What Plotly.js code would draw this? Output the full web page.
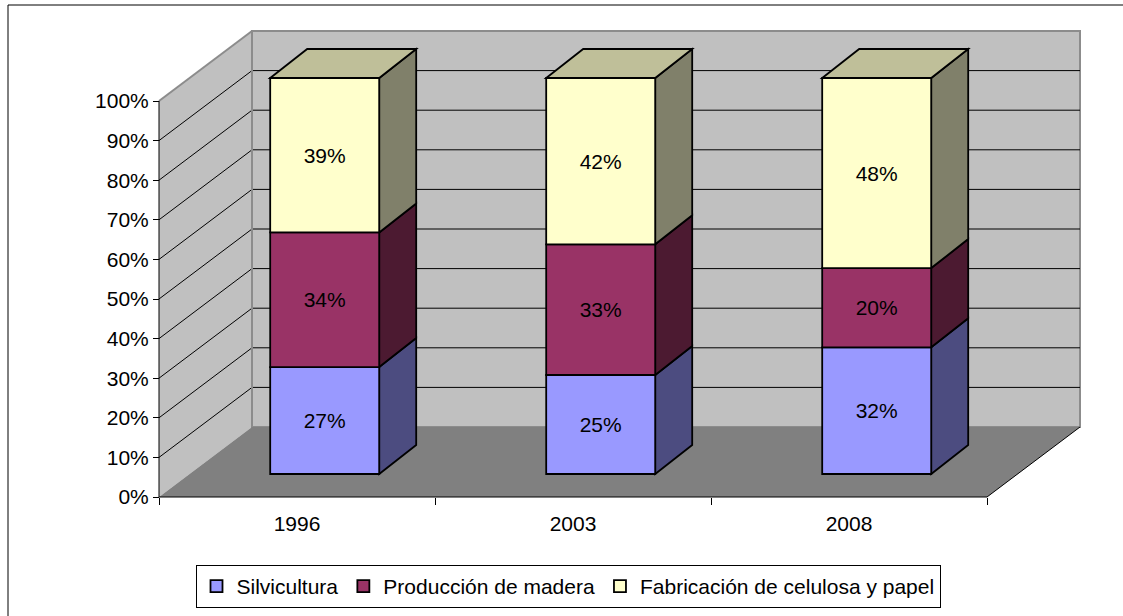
<!DOCTYPE html>
<html>
<head>
<meta charset="utf-8">
<script src="https://cdn.plot.ly/plotly-3.0.1.min.js"></script>
<style>
  html, body { margin: 0; padding: 0; background: #fff; }
  #chart { width: 1123px; height: 616px; }
</style>
</head>
<body>
<div id="chart"></div>
<script>
// ---- data ----
const categories = ['1996', '2003', '2008'];
const silvicultura = [27, 25, 32];
const produccionMadera = [34, 33, 20];
const fabricacionCelulosa = [39, 42, 48];
const seriesNames = ['Silvicultura', 'Producción de madera', 'Fabricación de celulosa y papel'];
const yTickValues = [0, 10, 20, 30, 40, 50, 60, 70, 80, 90, 100];

// ---- styling / geometry ----
const FONT = 'Liberation Sans, Arial, sans-serif';
const frontColors = ['#9999FF', '#993366', '#FFFFCC'];
const sideColors = ['#4C4C80', '#4C1A31', '#80806A'];
const topColors = ['#BDBD9A', '#BDBD9A', '#BFBF99'];
const PXX = 276, PXY = 396;          // pixels per data unit
const DX = 93 / PXX, DY = 70 / PXY;  // full depth of the box
const OX = 27.7 / PXX, OY = 23 / PXY; // bar front-face offset
const BX = 37 / PXX, BY = 29 / PXY;   // bar depth
const BW = 109 / PXX;                 // bar width
const PAD = 4;
const nCat = categories.length;
const xr = [-0.5 - PAD / PXX, nCat - 0.5 + DX + PAD / PXX];
const yr = [-PAD / PXY, 1 + DY + PAD / PXY];
const plotW = (xr[1] - xr[0]) * PXX, plotH = (yr[1] - yr[0]) * PXY;
const L = 159 - PAD, B = 497 + PAD;
const T = B - plotH, R = L + plotW;

const seriesVals = [silvicultura, produccionMadera, fabricacionCelulosa];
const idx = categories.map((c, i) => i);

// ---- bar traces (front faces) ----
const traces = [];
const cum = idx.map(() => 0);
const segs = []; // for side faces
seriesVals.forEach((vals, k) => {
  const bases = idx.map(i => cum[i] / 100 + OY);
  traces.push({
    type: 'bar',
    name: seriesNames[k],
    x: idx.map(i => i + OX),
    y: vals.map(v => v / 100),
    base: bases,
    width: BW,
    marker: { color: frontColors[k], line: { color: '#000', width: 1.8 } },
    text: vals.map(v => v + '%'),
    textposition: 'inside',
    insidetextanchor: 'middle',
    textangle: 0,
    constraintext: 'none',
    textfont: { family: FONT, size: 21, color: '#000' },
    hoverinfo: 'skip'
  });
  idx.forEach(i => {
    segs.push({ i, k, b: cum[i] / 100 + OY, t: (cum[i] + vals[i]) / 100 + OY });
    cum[i] += vals[i];
  });
});

// ---- shapes: walls, floor, grid, bar sides ----
const shapes = [];
const x0 = -0.5, x1 = nCat - 0.5;
function path(pts) {
  return 'M' + pts.map(p => p[0] + ',' + p[1]).join(' L') + ' Z';
}
function line(xa, ya, xb, yb, color, width) {
  shapes.push({ type: 'line', xref: 'x', yref: 'y', x0: xa, y0: ya, x1: xb, y1: yb,
    line: { color, width }, layer: 'below' });
}
// side wall
shapes.push({ type: 'path', xref: 'x', yref: 'y', layer: 'below',
  path: path([[x0, 0], [x0, 1], [x0 + DX, 1 + DY], [x0 + DX, DY]]),
  fillcolor: '#C0C0C0', line: { width: 0 } });
// back wall
shapes.push({ type: 'rect', xref: 'x', yref: 'y', layer: 'below',
  x0: x0 + DX, x1: x1 + DX, y0: DY, y1: 1 + DY,
  fillcolor: '#C0C0C0', line: { color: '#8C8C8C', width: 2 } });
// floor
shapes.push({ type: 'path', xref: 'x', yref: 'y', layer: 'below',
  path: path([[x0, 0], [x1, 0], [x1 + DX, DY], [x0 + DX, DY]]),
  fillcolor: '#808080', line: { width: 0 } });
// gridlines
yTickValues.forEach(tv => {
  const v = tv / 100;
  if (v > 0 && v < 1) {
    line(x0, v, x0 + DX, v + DY, '#000', 1);
    line(x0 + DX, v + DY, x1 + DX, v + DY, '#000', 1);
  }
});
// wall edges
line(x0, 1, x0 + DX, 1 + DY, '#8C8C8C', 2);
line(x0 + DX, DY, x0 + DX, 1 + DY, '#8C8C8C', 2);
// floor edges / axes lines
line(x1, 0, x1 + DX, DY, '#000', 1);
line(x0, 0, x1, 0, '#000', 1);
line(x0, 0, x0, 1, '#000', 1);
// bar side faces & top faces
segs.forEach(s => {
  const xl = s.i + OX - BW / 2, xrr = s.i + OX + BW / 2;
  shapes.push({ type: 'path', xref: 'x', yref: 'y', layer: 'below',
    path: path([[xrr, s.b], [xrr + BX, s.b + BY], [xrr + BX, s.t + BY], [xrr, s.t]]),
    fillcolor: sideColors[s.k], line: { color: '#000', width: 1.8 } });
  if (s.k === seriesVals.length - 1) {
    shapes.push({ type: 'path', xref: 'x', yref: 'y', layer: 'below',
      path: path([[xl, s.t], [xl + BX, s.t + BY], [xrr + BX, s.t + BY], [xrr, s.t]]),
      fillcolor: topColors[s.k], line: { color: '#000', width: 1.8 } });
  }
});
// outer chart border (only left & top visible)
shapes.push({ type: 'rect', xref: 'paper', yref: 'paper', layer: 'above',
  x0: (8 - L) / plotW, x1: (1140 - L) / plotW,
  y0: (B - 650) / plotH, y1: (B - 5) / plotH,
  fillcolor: 'rgba(0,0,0,0)', line: { color: '#000', width: 1 } });

const layout = {
  width: 1123, height: 616,
  margin: { l: L, r: 1123 - R, t: T, b: 616 - B, pad: 0, autoexpand: false },
  paper_bgcolor: '#fff', plot_bgcolor: 'rgba(0,0,0,0)',
  barmode: 'overlay',
  showlegend: true,
  font: { family: FONT, size: 21, color: '#000' },
  xaxis: {
    range: xr, anchor: 'free', position: PAD / plotH,
    tickmode: 'array', tickvals: idx, ticktext: categories,
    ticks: '', showgrid: false, zeroline: false, showline: false,
    ticklabelstandoff: 12,
    tickfont: { family: FONT, size: 21, color: '#000' },
    minor: { tickmode: 'array', tickvals: [-0.5, 0.5, 1.5, 2.5], ticks: 'outside', ticklen: 7, tickcolor: '#000', tickwidth: 1, showgrid: false },
    fixedrange: true
  },
  yaxis: {
    range: yr, anchor: 'free', position: PAD / plotW,
    tickmode: 'array', tickvals: yTickValues.map(v => v / 100),
    ticktext: yTickValues.map(v => v + '%'),
    ticks: 'outside', ticklen: 6, tickcolor: '#000', tickwidth: 1,
    showgrid: false, zeroline: false, showline: false,
    tickfont: { family: FONT, size: 21, color: '#000' },
    fixedrange: true
  },
  legend: {
    orientation: 'h', traceorder: 'normal',
    xref: 'container', yref: 'container',
    x: 568 / 1123, xanchor: 'center',
    y: 1 - 565 / 616, yanchor: 'top',
    bordercolor: '#000', borderwidth: 1, bgcolor: '#fff',
    font: { family: FONT, size: 21, color: '#000' },
    itemwidth: 30
  },
  shapes: shapes
};

Plotly.newPlot('chart', traces, layout, { displayModeBar: false, staticPlot: true });
</script>
</body>
</html>
